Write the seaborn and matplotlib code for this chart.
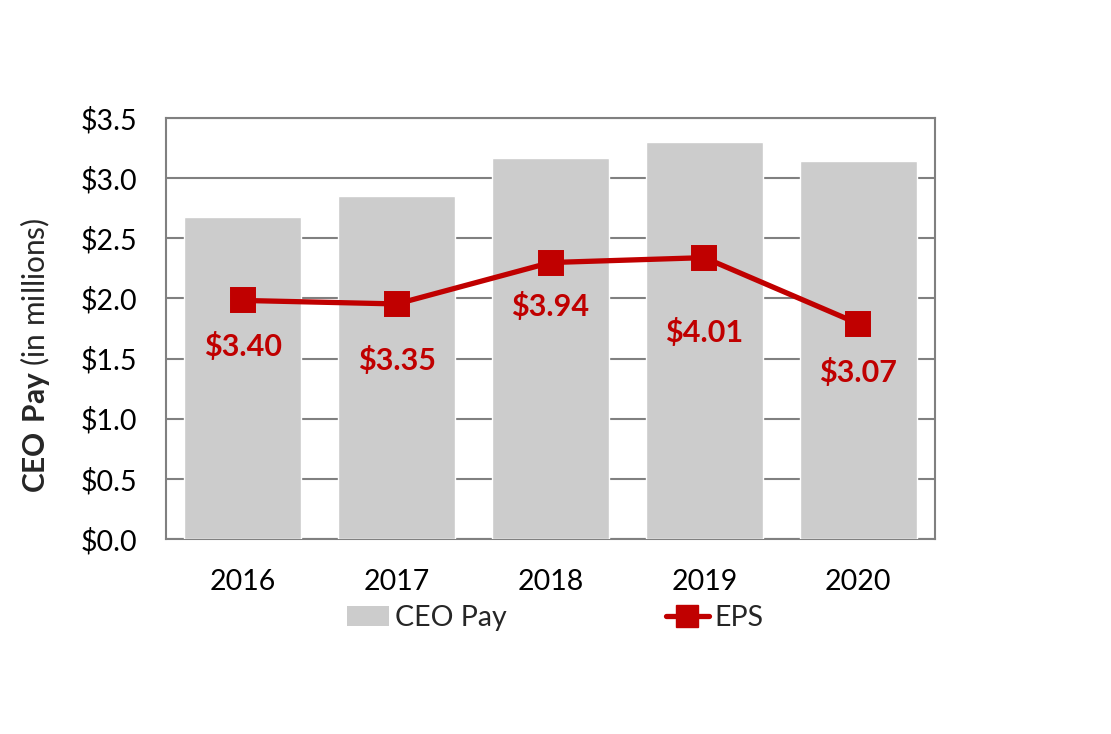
import matplotlib
matplotlib.use("Agg")
import matplotlib.pyplot as plt
import seaborn as sns
import pandas as pd
from matplotlib.patches import Patch
from matplotlib.lines import Line2D

years = ["2016", "2017", "2018", "2019", "2020"]
ceo_pay = [2.68, 2.85, 3.17, 3.30, 3.14]
eps = [3.40, 3.35, 3.94, 4.01, 3.07]
eps_labels = ["$3.40", "$3.35", "$3.94", "$4.01", "$3.07"]
y_ticks = [0.0, 0.5, 1.0, 1.5, 2.0, 2.5, 3.0, 3.5]
y_tick_labels = ["$0.0", "$0.5", "$1.0", "$1.5", "$2.0", "$2.5", "$3.0", "$3.5"]
label_offsets_pt = [33, 41, 32, 54, 35]

sns.set_theme(style="white")
FONT = "Lato"
plt.rcParams["font.family"] = [FONT, "DejaVu Sans"]
plt.rcParams["mathtext.fontset"] = "custom"
plt.rcParams["mathtext.rm"] = FONT
plt.rcParams["mathtext.bf"] = FONT + ":bold"

BAR = "#cccccc"
RED = "#c00000"
GRID = "#808080"
FS = 20.5

df = pd.DataFrame({"year": years, "pay": ceo_pay, "eps": eps})

fig = plt.figure(figsize=(11.11, 7.34), dpi=100)
fig.patch.set_facecolor("white")
ax = fig.add_axes([166/1111, 1 - 539/734, 769/1111, 421/734])

sns.barplot(data=df, x="year", y="pay", color=BAR, width=0.76, saturation=1,
            ax=ax, zorder=3)
ax.set_ylim(0, 3.5)
ax.set_yticks(y_ticks)
ax.set_yticklabels(y_tick_labels)
ax.yaxis.grid(True, color=GRID, linewidth=1.5, zorder=0)
ax.set_axisbelow(True)
for s in ax.spines.values():
    s.set_color(GRID)
    s.set_linewidth(1.5)
    s.set_visible(True)
ax.tick_params(axis="both", length=0, labelsize=FS, colors="black")
ax.tick_params(axis="y", pad=21)
ax.tick_params(axis="x", pad=21.5)
ax.set_xlabel("")
ax.set_ylabel(r"$\mathbf{CEO\ Pay}$ (in millions)", fontsize=21.5)
ax.yaxis.set_label_coords(-0.148, 0.437)

ax2 = ax.twinx()
sns.pointplot(data=df, x="year", y="eps", color=RED, markers="s",
              markersize=16, linewidth=3.8, errorbar=None, ax=ax2)
ax2.set_ylim(0, 6)
ax2.set_yticks([])
ax2.set_ylabel("")
for s in ax2.spines.values():
    s.set_visible(False)
for i, (v, lab) in enumerate(zip(eps, eps_labels)):
    ax2.annotate(lab, (i, v), xytext=(0, -label_offsets_pt[i]), textcoords="offset points",
                 ha="center", va="center", color=RED, fontsize=22, fontweight="bold")

handles = [Patch(facecolor=BAR, edgecolor="none"),
           Line2D([0], [0], color=RED, linewidth=3.8, marker="s", markersize=16)]
fig.legend(handles, ["CEO Pay", "EPS"], loc="center", bbox_to_anchor=(555/1111, 1 - 618/734),
           ncol=2, frameon=False, fontsize=FS, handlelength=1.5, handletextpad=0.2,
           columnspacing=5.6)

fig.savefig("out.png", dpi=100, facecolor="white")
